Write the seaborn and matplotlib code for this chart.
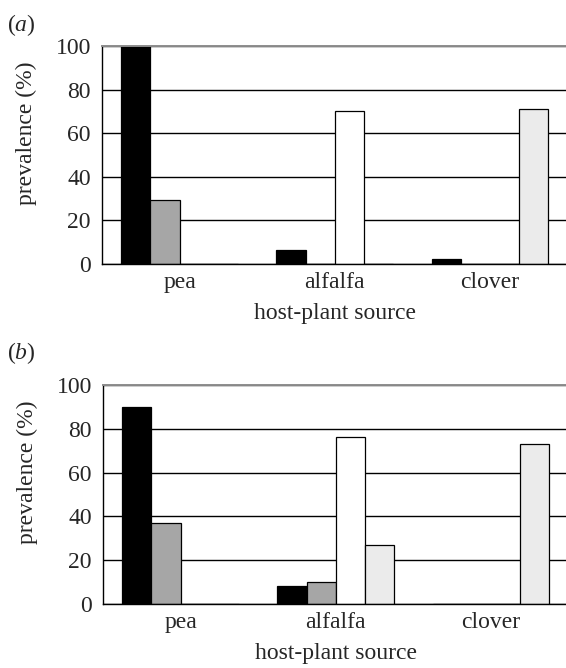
import pandas as pd
import matplotlib.pyplot as plt
import seaborn as sns

# host-plant source categories and the four bar series (black, grey, white, light grey)
hosts = ["pea", "alfalfa", "clover"]
series = ["s1", "s2", "s3", "s4"]
series_colors = ["#000000", "#a6a6a6", "#ffffff", "#ebebeb"]

# panel (a) prevalence (%)
a_s1 = [100, 6.5, 2.5]
a_s2 = [29.5, 0, 0]
a_s3 = [0, 70, 0]
a_s4 = [0, 0, 71]

# panel (b) prevalence (%)
b_s1 = [90, 8, 0]
b_s2 = [37, 10, 0]
b_s3 = [0, 76, 0]
b_s4 = [0, 27, 73]

y_ticks = [0, 20, 40, 60, 80, 100]
FS = 17


def to_long(cols):
    rows = []
    for name, vals in zip(series, cols):
        for host, v in zip(hosts, vals):
            rows.append({"host": host, "series": name, "prevalence": v})
    return pd.DataFrame(rows)


def draw_panel(ax, df):
    sns.barplot(data=df, x="host", y="prevalence", hue="series",
                order=hosts, hue_order=series, palette=series_colors,
                width=0.75, edgecolor="black", linewidth=0.9,
                legend=False, ax=ax, errorbar=None)
    ax.set_xlim(-0.5, 2.5)
    ax.set_ylim(0, 100)
    ax.set_yticks(y_ticks)
    ax.set_xticks(range(len(hosts)))
    ax.set_xticklabels(hosts)
    ax.set_xticks([-0.5, 0.5, 1.5, 2.5], minor=True)
    ax.tick_params(axis="x", which="major", length=0, pad=6, labelsize=FS)
    ax.tick_params(axis="x", which="minor", length=5, width=1, color="black", direction="out")
    ax.tick_params(axis="y", length=5, width=1, color="black", direction="out", pad=3, labelsize=FS)
    ax.yaxis.grid(True, color="black", linewidth=1)
    ax.xaxis.grid(False)
    ax.set_axisbelow(True)
    for side in ["left", "bottom"]:
        ax.spines[side].set_color("black")
        ax.spines[side].set_linewidth(1)
    ax.spines["top"].set_color("#8c8c8c")
    ax.spines["top"].set_linewidth(1.4)
    ax.spines["right"].set_visible(False)
    ax.set_ylabel("prevalence (%)", fontsize=FS)
    ax.yaxis.set_label_coords(-0.14, 0.6)
    ax.set_xlabel("host-plant source", fontsize=FS)
    ax.xaxis.set_label_coords(0.5, -0.178)


def main():
    sns.set_theme(style="white")
    plt.rcParams["font.family"] = ["Liberation Serif", "DejaVu Serif"]
    plt.rcParams["mathtext.fontset"] = "custom"
    plt.rcParams["mathtext.it"] = "Liberation Serif:italic"
    plt.rcParams["mathtext.rm"] = "Liberation Serif"

    fig = plt.figure(figsize=(5.66, 6.68), dpi=100)
    ax_a = fig.add_axes([0.1802, 0.6048, 0.822, 0.3263])
    ax_b = fig.add_axes([0.182, 0.0958, 0.822, 0.328])

    draw_panel(ax_a, to_long([a_s1, a_s2, a_s3, a_s4]))
    draw_panel(ax_b, to_long([b_s1, b_s2, b_s3, b_s4]))

    fig.text(0.012, 0.963, r"($a$)", fontsize=FS, va="center", ha="left")
    fig.text(0.012, 0.472, r"($b$)", fontsize=FS, va="center", ha="left")

    fig.savefig("out.png", dpi=100)
    plt.close(fig)


if __name__ == "__main__":
    main()
